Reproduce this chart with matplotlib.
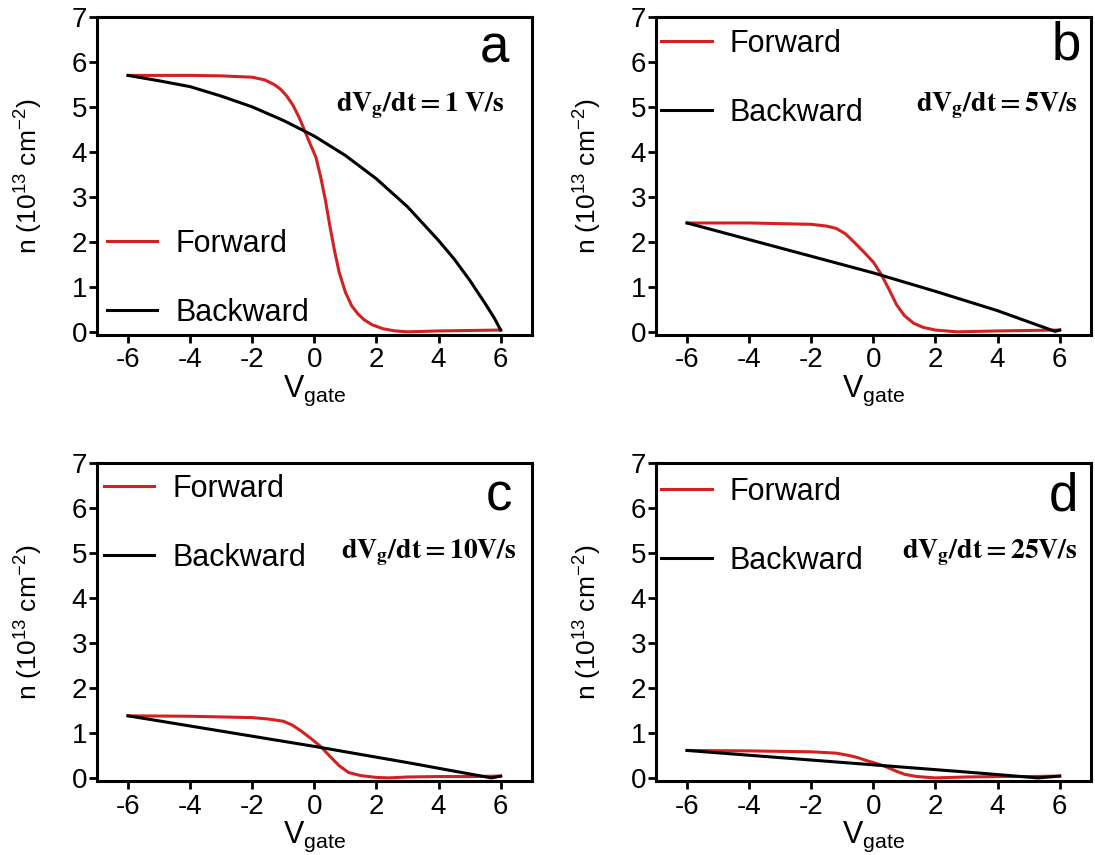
import matplotlib
matplotlib.use('Agg')
import matplotlib.pyplot as plt

plt.rcParams['font.family'] = 'Liberation Sans'
plt.rcParams['mathtext.fontset'] = 'custom'
plt.rcParams['mathtext.rm'] = 'Liberation Sans'
plt.rcParams['mathtext.it'] = 'Liberation Sans'
plt.rcParams['axes.unicode_minus'] = False

RED = '#d42020'

# panel a : 1 V/s
fwd_a_x = [-6, -5, -4, -3, -2, -1.6, -1.3, -1.1, -0.9, -0.7, -0.5, -0.3, -0.1, 0.05, 0.2, 0.35,
           0.5, 0.65, 0.8, 1.0, 1.2, 1.4, 1.6, 1.85, 2.2, 2.6, 3.0, 4.0, 5.0, 6.0]
fwd_a_y = [5.70, 5.70, 5.70, 5.69, 5.66, 5.60, 5.50, 5.40, 5.25, 5.05, 4.78, 4.45, 4.12, 3.88, 3.45, 2.95,
           2.35, 1.80, 1.32, 0.88, 0.58, 0.40, 0.27, 0.16, 0.07, 0.02, 0.0, 0.02, 0.03, 0.04]
bwd_a_x = [-6, -5, -4, -3, -2, -1, 0, 1, 2, 3, 4, 4.5, 5, 5.5, 5.8, 6]
bwd_a_y = [5.70, 5.58, 5.45, 5.24, 5.00, 4.70, 4.35, 3.92, 3.40, 2.78, 2.03, 1.62, 1.15, 0.63, 0.30, 0.04]

# panel b : 5 V/s
fwd_b_x = [-6, -4, -2, -1.5, -1.2, -0.9, -0.6, -0.3, 0, 0.25, 0.5, 0.75, 1.0, 1.3, 1.6, 2.0, 2.7, 4, 5, 6]
fwd_b_y = [2.42, 2.42, 2.39, 2.35, 2.30, 2.18, 1.98, 1.77, 1.55, 1.28, 0.95, 0.60, 0.36, 0.19, 0.10, 0.04,
           0.0, 0.02, 0.03, 0.04]
bwd_b_x = [-6, -4, -2, 0, 2, 4, 5.85, 6]
bwd_b_y = [2.42, 2.05, 1.68, 1.31, 0.90, 0.47, 0.01, 0.04]

# panel c : 10 V/s
fwd_c_x = [-6, -4, -2, -1.5, -1.0, -0.7, -0.4, -0.1, 0.2, 0.5, 0.8, 1.1, 1.5, 2.0, 2.4, 3, 4, 5, 6]
fwd_c_y = [1.38, 1.37, 1.34, 1.31, 1.26, 1.17, 1.03, 0.87, 0.70, 0.48, 0.27, 0.12, 0.05, 0.01, 0.0,
           0.02, 0.03, 0.03, 0.04]
bwd_c_x = [-6, -3, 0, 3, 5.7, 6]
bwd_c_y = [1.38, 1.04, 0.70, 0.34, 0.0, 0.04]

# panel d : 25 V/s
fwd_d_x = [-6, -4, -2, -1.2, -0.8, -0.5, -0.2, 0.1, 0.4, 0.7, 1.0, 1.4, 2.0, 3, 4, 5, 6]
fwd_d_y = [0.61, 0.60, 0.58, 0.55, 0.50, 0.45, 0.38, 0.32, 0.25, 0.16, 0.08, 0.03, 0.0, 0.02, 0.03,
           0.03, 0.04]
bwd_d_x = [-6, -3, 0, 3, 5.3, 6]
bwd_d_y = [0.61, 0.45, 0.29, 0.13, 0.0, 0.04]

letters = ['a', 'b', 'c', 'd']
rates = ['1 V/s', '5V/s', '10V/s', '25V/s']
xticks = [-6, -4, -2, 0, 2, 4, 6]
yticks = [0, 1, 2, 3, 4, 5, 6, 7]

panels = [
    (fwd_a_x, fwd_a_y, bwd_a_x, bwd_a_y),
    (fwd_b_x, fwd_b_y, bwd_b_x, bwd_b_y),
    (fwd_c_x, fwd_c_y, bwd_c_x, bwd_c_y),
    (fwd_d_x, fwd_d_y, bwd_d_x, bwd_d_y),
]

# axes rectangles in figure fractions (left, bottom, width, height)
rects = [
    (0.0886, 0.6082, 0.397, 0.372),
    (0.5991, 0.6082, 0.397, 0.372),
    (0.0886, 0.0865, 0.397, 0.372),
    (0.5991, 0.0865, 0.397, 0.372),
]
# legend anchor (center-left) per panel, dV text position, letter position
leg_anchor = [(0.022, 0.179), (0.012, 0.807), (0.016, 0.81), (0.012, 0.80)]
rate_pos = [(0.938, 0.705), (0.970, 0.705), (0.966, 0.702), (0.970, 0.702)]
letter_pos = [(0.949, 0.858), (0.977, 0.865), (0.954, 0.852), (0.970, 0.852)]

fig = plt.figure(figsize=(10.95, 8.55), dpi=100)

for i, (fx, fy, bx, by) in enumerate(panels):
    ax = fig.add_axes(rects[i])
    ax.plot(fx, fy, color=RED, lw=2.2, label='Forward')
    ax.plot(bx, by, color='black', lw=2.2, label='Backward')
    ax.set_xlim(-7, 7)
    ax.set_ylim(-0.07, 7)
    ax.set_xticks(xticks)
    ax.set_yticks(yticks)
    ax.tick_params(direction='out', length=6, width=2, labelsize=20)
    ax.tick_params(axis='y', pad=1)
    ax.tick_params(axis='x', pad=3)
    for sp in ax.spines.values():
        sp.set_linewidth(2.2)
    ax.set_xlabel(r'V$_{\mathrm{gate}}$', fontsize=22, labelpad=0)
    ax.set_ylabel(r'n (10$^{13}$ cm$^{-2}$)', fontsize=19, labelpad=19)

    ax.legend(loc='center left', bbox_to_anchor=leg_anchor[i], frameon=False,
              fontsize=22, handlelength=1.65, handletextpad=0.6, labelspacing=1.28,
              borderpad=0, borderaxespad=0)

    ax.text(letter_pos[i][0], letter_pos[i][1], letters[i], transform=ax.transAxes,
            ha='right', va='baseline', fontsize=38)
    ax.text(rate_pos[i][0], rate_pos[i][1],
            r'$\mathbf{dV_g/dt = %s}$' % rates[i].replace(' ', r'\ '),
            transform=ax.transAxes, ha='right', va='baseline', fontsize=20,
            math_fontfamily='stix')

fig.savefig('out.png', dpi=100)
